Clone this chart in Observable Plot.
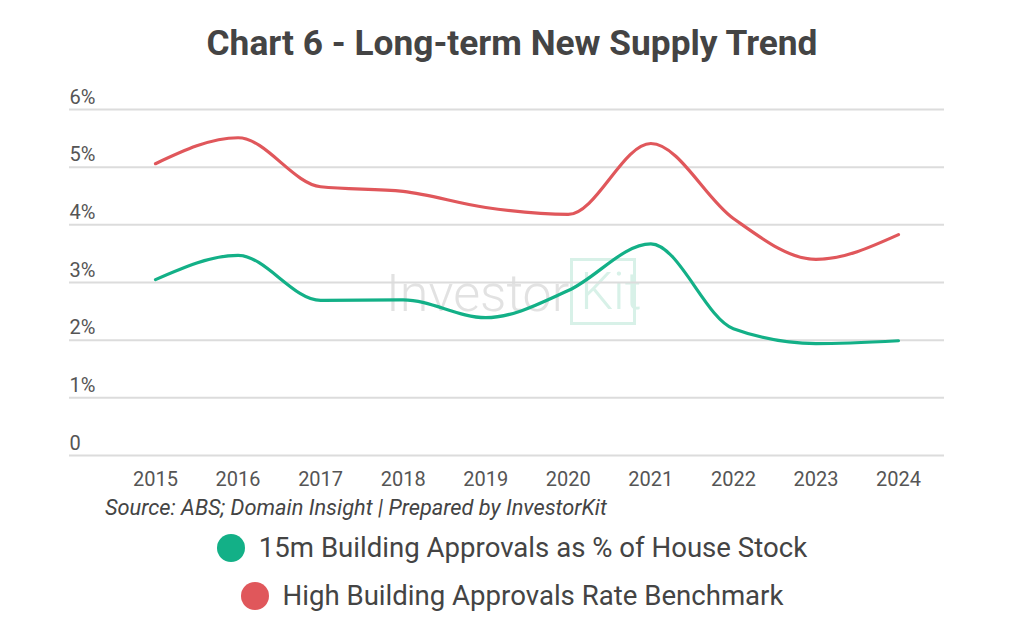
<!DOCTYPE html>
<html>
<head>
<meta charset="utf-8">
<script src="https://cdn.jsdelivr.net/npm/d3@7"></script>
<script src="https://cdn.jsdelivr.net/npm/@observablehq/plot@0.6"></script>
<style>
  html, body { margin: 0; padding: 0; background: #fff; }
  body { width: 1024px; height: 630px; position: relative; overflow: hidden; font-family: Roboto, "Noto Sans", sans-serif; }
  .abs { position: absolute; white-space: nowrap; }
  #title { left: 0; width: 1024px; top: 26px; text-align: center; font-size: 35.3px; line-height: 35px; font-weight: 700; color: #444; }
  #chart { left: 0; top: 70px; z-index: 1; }
  #wm { left: 386px; top: 258px; z-index: 0; display: flex; align-items: center; }
  #wm .inv { font-size: 52px; line-height: 52px; font-weight: 300; color: #e2e2e2; margin-top: 5px; }
  #wm .kit { font-size: 52px; line-height: 52px; font-weight: 300; color: #d8f1e8; border: 3px solid #d8f1e8; width: 66px; height: 67px; box-sizing: border-box; padding-left: 7px; padding-top: 5px; margin-left: 1px; }
  #caption { left: 105px; top: 497px; font-size: 21.8px; line-height: 21.5px; font-style: italic; color: #444; }
  .leg { left: 0; width: 1024px; display: flex; justify-content: center; align-items: center; font-size: 27.6px; line-height: 27.5px; color: #444; }
  .dot { width: 28px; height: 28px; border-radius: 50%; margin-right: 14px; }
</style>
</head>
<body>
<div id="title" class="abs"></div>
<div id="wm" class="abs"><span class="inv">Investor</span><span class="kit">Kit</span></div>
<div id="chart" class="abs"></div>
<div id="caption" class="abs"></div>
<div id="leg1" class="abs leg"></div>
<div id="leg2" class="abs leg"></div>
<script>
const title = "Chart 6 - Long-term New Supply Trend";
const caption = "Source: ABS; Domain Insight | Prepared by InvestorKit";
const years = [2015, 2016, 2017, 2018, 2019, 2020, 2021, 2022, 2023, 2024];
const approvals = [3.05, 3.47, 2.69, 2.70, 2.39, 2.86, 3.67, 2.20, 1.94, 1.99];
const benchmark = [5.06, 5.51, 4.66, 4.58, 4.30, 4.18, 5.41, 4.11, 3.40, 3.83];
const yTicks = [0, 1, 2, 3, 4, 5, 6];
const yTickLabels = ["0", "1%", "2%", "3%", "4%", "5%", "6%"];
const seriesNames = ["15m Building Approvals as % of House Stock", "High Building Approvals Rate Benchmark"];
const seriesColors = ["#13b087", "#e0575b"];

const rows = [];
years.forEach((yr, i) => {
  rows.push({year: yr, value: approvals[i], series: seriesNames[0]});
  rows.push({year: yr, value: benchmark[i], series: seriesNames[1]});
});
const tickRows = yTicks.map((v, i) => ({v, label: yTickLabels[i]}));

document.getElementById("title").textContent = title;
document.getElementById("caption").textContent = caption;

const plot = Plot.plot({
  width: 1024,
  height: 430,
  marginLeft: 155,
  marginRight: 126,
  marginTop: 39,
  marginBottom: 45,
  style: {background: "transparent", fontFamily: "Roboto, sans-serif", fontSize: "20px", color: "#555"},
  x: {type: "linear", domain: [2015, 2024], axis: null},
  y: {domain: [0, 6], axis: null},
  color: {domain: seriesNames, range: seriesColors},
  marks: [
    Plot.ruleY(yTicks, {stroke: "#dcdcdc", strokeWidth: 2, insetLeft: -86, insetRight: -46}),
    Plot.text(tickRows, {y: "v", text: "label", frameAnchor: "left", textAnchor: "start", lineAnchor: "bottom", dx: -86, dy: -6, fill: "#555", fontSize: 20}),
    Plot.axisX({ticks: years, tickFormat: d => String(d), tickSize: 0, tickPadding: 16, fontSize: 20, fill: "#555", label: null}),
    Plot.line(rows, {x: "year", y: "value", z: "series", stroke: "series", strokeWidth: 3.2, curve: "monotone-x"})
  ]
});
document.getElementById("chart").appendChild(plot);

function legendRow(id, name, color, top) {
  const el = document.getElementById(id);
  el.style.top = top + "px";
  const dot = document.createElement("span");
  dot.className = "dot";
  dot.style.background = color;
  const t = document.createElement("span");
  t.textContent = name;
  el.appendChild(dot);
  el.appendChild(t);
}
legendRow("leg1", seriesNames[0], seriesColors[0], 534);
legendRow("leg2", seriesNames[1], seriesColors[1], 582);
</script>
</body>
</html>
